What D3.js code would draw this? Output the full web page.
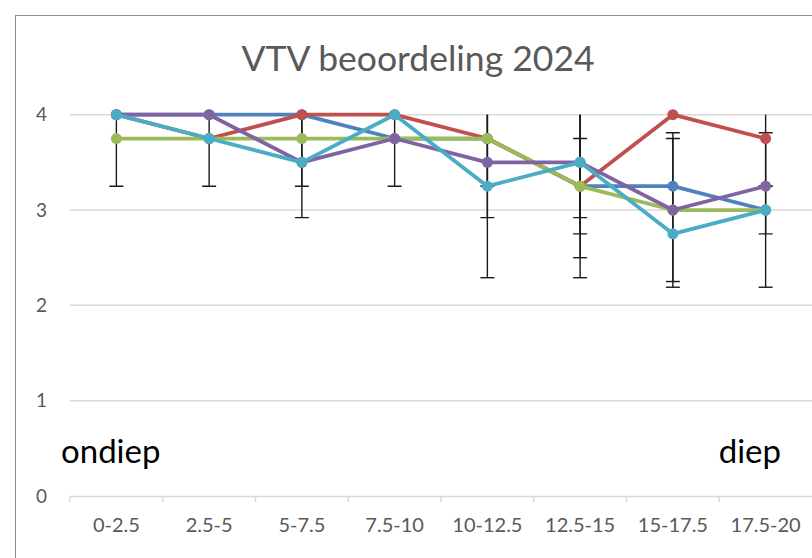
<!DOCTYPE html>
<html><head><meta charset="utf-8">
<script src="https://cdn.jsdelivr.net/npm/d3@7"></script>
<style>html,body{margin:0;padding:0;background:#fff;}svg{display:block;}</style>
</head><body>
<svg id="c" width="812" height="558"></svg>
<script>
const title = "VTV beoordeling 2024";
const categories = ["0-2.5","2.5-5","5-7.5","7.5-10","10-12.5","12.5-15","15-17.5","17.5-20"];
const yTicks = [0,1,2,3,4];
const seriesNames = ["s1","s2","s3","s4","s5"];
const seriesColors = ["#4F81BD","#C0504D","#9BBB59","#8064A2","#4BACC6"];
const blue   = [4, 4, 4, 3.75, 3.75, 3.25, 3.25, 3];
const red    = [4, 3.75, 4, 4, 3.75, 3.25, 4, 3.75];
const green  = [3.75, 3.75, 3.75, 3.75, 3.75, 3.25, 3, 3];
const purple = [4, 4, 3.5, 3.75, 3.5, 3.5, 3, 3.25];
const aqua   = [4, 3.75, 3.5, 4, 3.25, 3.5, 2.75, 3];
// symmetric error amounts (null = none)
const blueErr   = [null,null,null,null,null,null,null,0.81];
const redErr    = [null,null,null,null,null,0.5,null,0.5];
const greenErr  = [0.5,0.5,0.5,0.5,0.5,0.96,0.75,null];
const purpleErr = [null,null,0.58,null,0.58,0.58,0.81,null];
const aquaErr   = [null,null,null,null,0.96,1.0,null,0.25];
const leftNote = "ondiep", rightNote = "diep";

const values = [blue, red, green, purple, aqua];
const errs = [blueErr, redErr, greenErr, purpleErr, aquaErr];

const svg = d3.select("#c");
const font = "Lato, 'Open Sans', sans-serif";

// outer chart border
svg.append("rect").attr("x",15.5).attr("y",15.5).attr("width",900).attr("height",700)
  .attr("fill","none").attr("stroke","#8c8c8c").attr("stroke-width",1);

const x = d3.scaleBand().domain(categories).range([70, 812]).paddingInner(0).paddingOuter(0);
const y = d3.scaleLinear().domain([0,4]).range([496, 114.7]);
const cx = c => x(c) + x.bandwidth()/2;

// title
svg.append("text").attr("x",418).attr("y",71).attr("text-anchor","middle")
  .attr("font-family",font).attr("font-size",35.5).attr("fill","#595959").text(title);

// gridlines
svg.append("g").selectAll("line").data(yTicks.filter(t=>t>0)).join("line")
  .attr("x1",70).attr("x2",812).attr("y1",d=>y(d)).attr("y2",d=>y(d))
  .attr("stroke","#d9d9d9").attr("stroke-width",1.5);

// y labels
svg.append("g").selectAll("text").data(yTicks).join("text")
  .attr("x",47).attr("y",d=>y(d)).attr("dy","0.35em").attr("text-anchor","end")
  .attr("font-family",font).attr("font-size",19).attr("fill","#595959").text(d=>d);

// x axis
const xAxis = d3.axisBottom(x).tickSize(0).tickPadding(22);
const gx = svg.append("g").attr("transform",`translate(0,${y(0)})`).call(xAxis);
gx.select(".domain").attr("stroke","#d9d9d9").attr("stroke-width",1.5);
gx.selectAll("text").attr("font-family",font).attr("font-size",20).attr("fill","#595959");
const bounds = categories.map(c=>x(c));
gx.append("g").selectAll("line").data(bounds).join("line")
  .attr("x1",d=>d).attr("x2",d=>d).attr("y1",0).attr("y2",6)
  .attr("stroke","#d9d9d9").attr("stroke-width",1.5);

// clip for error bars
svg.append("clipPath").attr("id","plot").append("rect")
  .attr("x",70).attr("y",y(4)).attr("width",742).attr("height",y(0)-y(4));

const eg = svg.append("g").attr("clip-path","url(#plot)");
values.forEach((vals,si)=>{
  const e = errs[si];
  categories.forEach((c,i)=>{
    if (e[i]==null) return;
    const v = vals[i], px = cx(c);
    const y1 = y(v + e[i]), y2 = y(v - e[i]);
    eg.append("line").attr("x1",px).attr("x2",px).attr("y1",y1).attr("y2",y2)
      .attr("stroke","#1a1a1a").attr("stroke-width",1.4);
    [y1,y2].forEach(yy=>eg.append("line").attr("x1",px-7).attr("x2",px+7).attr("y1",yy).attr("y2",yy)
      .attr("stroke","#1a1a1a").attr("stroke-width",1.4));
  });
});

// lines and markers
const line = d3.line().x((d,i)=>cx(categories[i])).y(d=>y(d));
values.forEach((vals,si)=>{
  const g = svg.append("g");
  g.append("path").datum(vals).attr("d",line).attr("fill","none")
    .attr("stroke",seriesColors[si]).attr("stroke-width",3.8).attr("stroke-linejoin","round");
  g.selectAll("circle").data(vals).join("circle")
    .attr("cx",(d,i)=>cx(categories[i])).attr("cy",d=>y(d)).attr("r",5.5)
    .attr("fill",seriesColors[si]);
});

// notes
svg.append("text").attr("x",61).attr("y",463).attr("font-family",font).attr("font-size",33)
  .attr("fill","#000").text(leftNote);
svg.append("text").attr("x",781).attr("y",463).attr("text-anchor","end").attr("font-family",font).attr("font-size",33)
  .attr("fill","#000").text(rightNote);
</script>
</body></html>
